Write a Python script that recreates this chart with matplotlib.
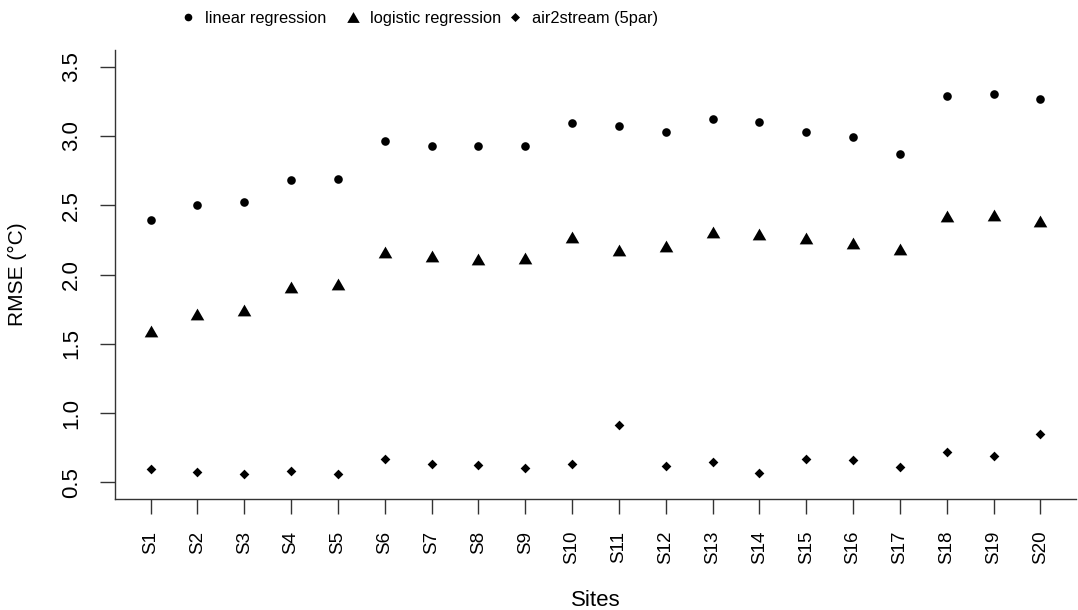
import matplotlib
matplotlib.use("Agg")
import matplotlib.pyplot as plt
from matplotlib.lines import Line2D

plt.rcParams['font.family'] = ['Liberation Sans', 'DejaVu Sans']

sites = ["S%d" % i for i in range(1, 21)]
linear_regression = [2.39, 2.505, 2.52, 2.68, 2.69, 2.965, 2.93, 2.925, 2.925, 3.095,
                     3.07, 3.03, 3.125, 3.10, 3.025, 2.99, 2.87, 3.285, 3.30, 3.27]
logistic_regression = [1.59, 1.717, 1.741, 1.909, 1.933, 2.161, 2.130, 2.111, 2.120, 2.269,
                       2.175, 2.208, 2.309, 2.295, 2.266, 2.229, 2.184, 2.422, 2.427, 2.384]
air2stream_5par = [0.597, 0.575, 0.559, 0.585, 0.561, 0.667, 0.636, 0.624, 0.607, 0.636,
                   0.917, 0.616, 0.650, 0.571, 0.667, 0.659, 0.614, 0.717, 0.690, 0.849]
series_names = ["linear regression", "logistic regression", "air2stream (5par)"]
yticks = [0.5, 1.0, 1.5, 2.0, 2.5, 3.0, 3.5]

W, H = 1078, 610
fig = plt.figure(figsize=(W / 100, H / 100), dpi=100)
ax = fig.add_axes([115 / W, 1 - 499 / H, (1076 - 115) / W, (499 - 50) / H])

tri = [(0, 0.866), (-1, -0.866), (1, -0.866)]
dia = [(0, 1), (1, 0), (0, -1), (-1, 0)]
x = list(range(1, len(sites) + 1))
kw = dict(linestyle='none', color='black', markeredgewidth=0)
ax.plot(x, linear_regression, marker='o', markersize=6.2, **kw)
ax.plot(x, logistic_regression, marker=tri, markersize=9.8, **kw)
ax.plot(x, air2stream_5par, marker=dia, markersize=7.0, **kw)

ax.set_xlim(0.24, 20.76)
ax.set_ylim(0.38, 3.62)
ax.set_xticks(x)
ax.set_xticklabels(sites, rotation=90, fontsize=13.5)
ax.set_yticks(yticks)
ax.set_yticklabels(["%.1f" % v for v in yticks], rotation=90, va='center', fontsize=16)

for s in ['top', 'right']:
    ax.spines[s].set_visible(False)
for s in ['left', 'bottom']:
    ax.spines[s].set_color('#333333')
    ax.spines[s].set_linewidth(1.0)
ax.tick_params(axis='both', length=10.8, width=1.0, color='#333333', pad=12)
ax.tick_params(axis='y', pad=13)

ax.set_ylabel("RMSE (°C)", fontsize=15)
ax.yaxis.label.set_va('center')
ax.yaxis.set_label_coords((17 - 115) / 961, 0.5)
ax.set_xlabel("Sites", fontsize=16)
ax.xaxis.label.set_va('center')
ax.xaxis.set_label_coords(0.5, (499 - 600) / 449)

# legend entries, placed individually
fs = 11.8
em = fs * 100 / 72
handles = [
    Line2D([], [], marker='o', markersize=5.5, **kw),
    Line2D([], [], marker=tri, markersize=9.0, **kw),
    Line2D([], [], marker=dia, markersize=6.5, **kw),
]
marker_x = [188, 352.5, 514.7]
for h, name, mx in zip(handles, series_names, marker_x):
    fig.legend(handles=[h], labels=[name], loc='center left',
               bbox_to_anchor=((mx - 0.5 * em) / W, 1 - 18 / H),
               frameon=False, borderaxespad=0, borderpad=0,
               handlelength=1.0, handletextpad=0.54, fontsize=fs)

fig.savefig("out.png", dpi=100)
